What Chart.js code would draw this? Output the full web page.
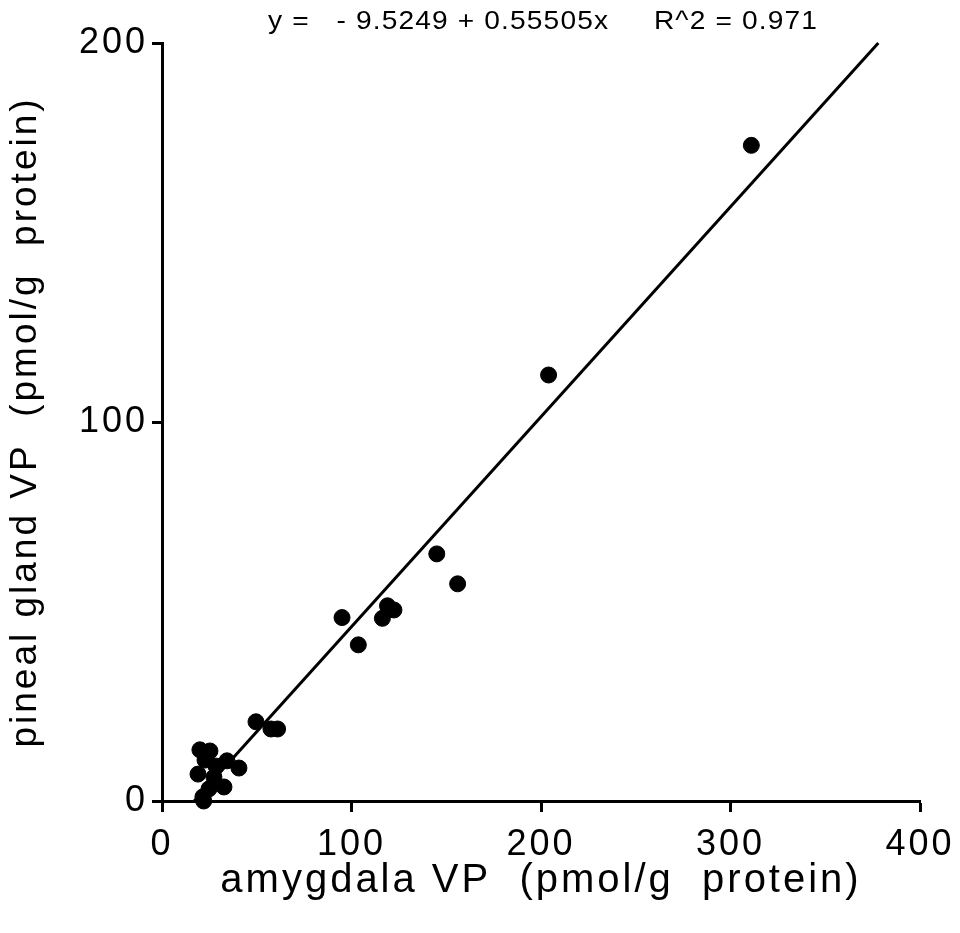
<!DOCTYPE html>
<html>
<head>
<meta charset="utf-8">
<script src="https://cdn.jsdelivr.net/npm/chart.js@4"></script>
<style>
  html, body { margin: 0; padding: 0; background: #fff; }
  #wrap { width: 960px; height: 933px; }
</style>
</head>
<body>
<div id="wrap"><canvas id="c" width="960" height="933"></canvas></div>
<script>
// ---- data ----
const amygdalaVP = [311, 204, 145, 156, 95, 119, 122.4, 116.3, 103.6,
                    49.6, 57.5, 61,
                    20, 25.3, 19, 28.5, 34.3, 40.6, 32.7, 24.8, 21.6, 27.4, 22.7, 22];
const pinealVP   = [173, 112.4, 65.2, 57.3, 48.4, 51.5, 50.4, 48.2, 41.2,
                    20.9, 19, 19,
                    13.5, 13.2, 7.1, 9.2, 10.6, 8.7, 3.7, 3.2, 1.1, 6.3, 10.8, 0];
const fitLineX = [17, 378];
const fitLineY = [0, 200];
const xTicks = [0, 100, 200, 300, 400];
const yTicks = [0, 100, 200];
const equationText = 'y =   - 9.5249 + 0.55505x     R^2 = 0.971';
const xTitle = 'amygdala VP  (pmol/g  protein)';
const yTitle = 'pineal gland VP  (pmol/g  protein)';

const points = amygdalaVP.map((x, i) => ({ x, y: pinealVP[i] }));
const fitLine = fitLineX.map((x, i) => ({ x, y: fitLineY[i] }));

const FONT = '"Liberation Sans", Arial, Helvetica, sans-serif';

const spacingPlugin = {
  id: 'spacing',
  beforeLayout(chart) { chart.ctx.letterSpacing = '3px'; },
  beforeDraw(chart) { chart.ctx.letterSpacing = '3px'; }
};

const equationPlugin = {
  id: 'equation',
  afterDraw(chart) {
    const ctx = chart.ctx;
    ctx.save();
    ctx.letterSpacing = '1px';
    ctx.font = '25px ' + FONT;
    ctx.fillStyle = '#000';
    ctx.textBaseline = 'middle';
    ctx.textAlign = 'left';
    const w = ctx.measureText(equationText).width;
    ctx.translate(268, 22);
    ctx.scale(550 / w, 1);
    ctx.fillText(equationText, 0, 0);
    ctx.restore();
  }
};

new Chart(document.getElementById('c'), {
  type: 'scatter',
  data: {
    datasets: [
      {
        data: points,
        backgroundColor: '#000',
        borderColor: '#000',
        pointRadius: 8,
        pointHoverRadius: 8,
        clip: false
      },
      {
        type: 'line',
        data: fitLine,
        borderColor: '#000',
        borderWidth: 3,
        pointRadius: 0,
        fill: false,
        clip: false
      }
    ]
  },
  options: {
    responsive: false,
    animation: false,
    events: [],
    layout: { padding: { top: 43, right: 40, left: 0, bottom: 0 } },
    plugins: { legend: { display: false }, tooltip: { enabled: false } },
    scales: {
      x: {
        type: 'linear',
        min: 0, max: 400,
        afterFit(s) { s.height = 132; s.paddingLeft = 0; s.paddingRight = 0; },
        afterBuildTicks(s) { s.ticks = xTicks.map(v => ({ value: v })); },
        border: { display: true, color: '#000', width: 3 },
        grid: { drawOnChartArea: false, drawTicks: true, tickLength: 11, tickColor: '#000', tickWidth: 3, color: '#000' },
        ticks: { color: '#000', font: { family: FONT, size: 36 }, padding: 11, maxRotation: 0 },
        title: { display: true, text: xTitle, color: '#000', font: { family: FONT, size: 40 }, padding: { top: 0, bottom: 28 } }
      },
      y: {
        type: 'linear',
        min: 0, max: 200,
        afterFit(s) { s.width = 162; s.paddingTop = 0; s.paddingBottom = 0; },
        afterBuildTicks(s) { s.ticks = yTicks.map(v => ({ value: v })); },
        border: { display: true, color: '#000', width: 3 },
        grid: { drawOnChartArea: false, drawTicks: true, tickLength: 10, tickColor: '#000', tickWidth: 3, color: '#000' },
        ticks: { color: '#000', font: { family: FONT, size: 36 }, padding: 4 },
        title: { display: true, text: yTitle, color: '#000', font: { family: FONT, size: 37 }, padding: { top: 4, bottom: 0 } }
      }
    }
  },
  plugins: [spacingPlugin, equationPlugin]
});
</script>
</body>
</html>
